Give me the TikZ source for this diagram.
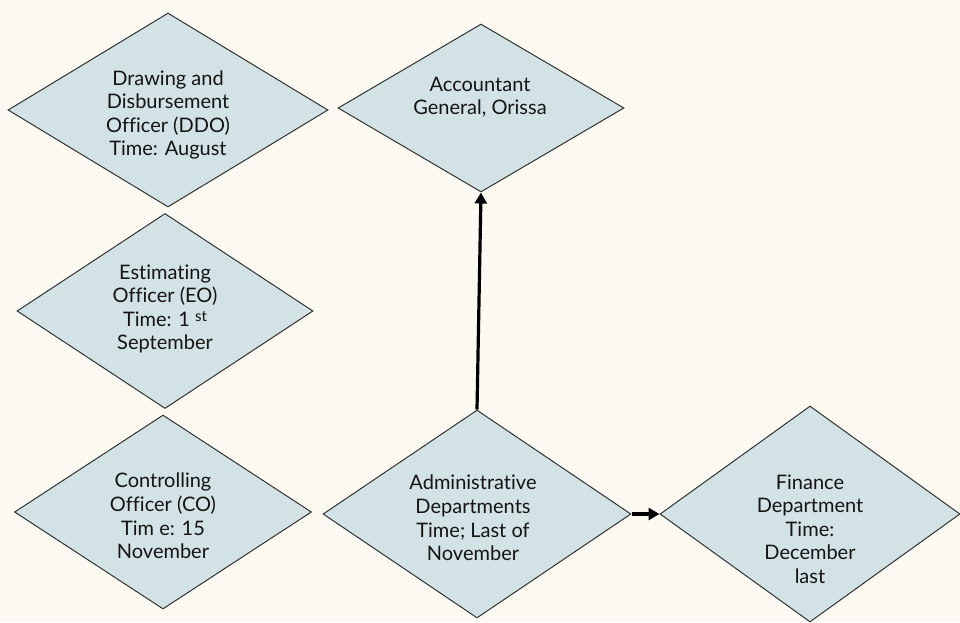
\documentclass[tikz,border=0pt]{standalone}
\usepackage{fontspec}
\setmainfont{Lato}[Ligatures={NoCommon}]
\usetikzlibrary{shapes.geometric,arrows.meta}
\definecolor{dfill}{HTML}{D2E2E5}
\definecolor{bgc}{HTML}{FBF9F2}
\definecolor{edge}{HTML}{333333}
\tikzset{
  dia/.style={diamond, draw=edge, line width=1pt, fill=dfill, inner sep=0pt, aspect=1.6},
  lbl/.style={align=center, font=\fontsize{20}{23.6}\selectfont, text=black!92, inner sep=0pt},
  flow/.style={line width=3.2pt, -{Triangle[length=11pt,width=12pt]}}
}
\begin{document}
\begin{tikzpicture}[x=1pt,y=-1pt]
\fill[bgc] (0,0) rectangle (960,622);
\useasboundingbox (0,0) rectangle (960,622);
\node[dia, minimum width=320pt, minimum height=194pt] (ddo) at (168,110) {};
\node[dia, minimum width=296pt, minimum height=195pt] (eo) at (165,311) {};
\node[dia, minimum width=297pt, minimum height=194pt] (co) at (163,512) {};
\node[dia, minimum width=286pt, minimum height=168pt] (ag) at (481,108) {};
\node[dia, minimum width=308pt, minimum height=208pt] (ad) at (477,514) {};
\node[dia, minimum width=300pt, minimum height=216pt] (fd) at (810,514) {};
\node[lbl] (ddot) at (168,115) {Drawing and\\Disbursement\\Officer (DDO)\\Time: August};
\node[lbl] (eot) at (165,309) {Estimating\\Officer (EO)\\Time: 1 \raisebox{0.5ex}{\fontsize{15}{15}\selectfont st}\\September};
\node[lbl] (cot) at (163,516) {Controlling\\Officer (CO)\\Tim e: 15\\November};
\node[lbl] (agt) at (480,97) {Accountant\\General, Orissa};
\node[lbl] (adt) at (473,518) {Administrative\\Departments\\Time; Last of\\November};
\node[lbl] (fdt) at (810,529) {Finance\\Department\\Time:\\December\\last};
\draw[flow] (ad.north) -- (ag.south);
\draw[flow] (ad.east) -- (fd.west);
\end{tikzpicture}
\end{document}
